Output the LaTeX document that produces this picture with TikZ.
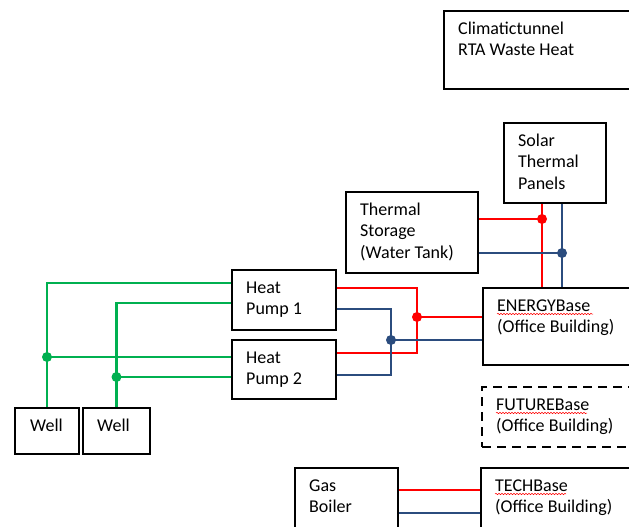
\documentclass[tikz,border=0pt]{standalone}
\usepackage{fontspec}
\setmainfont{Carlito}
\usetikzlibrary{calc}
\usetikzlibrary{decorations.pathmorphing}
\definecolor{hotred}{HTML}{FF0000}
\definecolor{coldblue}{HTML}{2B4C7E}
\definecolor{wellgreen}{HTML}{00B050}
\tikzset{
	unit/.style={draw, line width=2pt, rectangle, anchor=north west, inner sep=0pt},
	unit text/.style={anchor=north west, align=left, inner sep=0pt, font=\fontsize{18}{21.5}\selectfont},
	open unit/.style={dash pattern=on 9pt off 6pt},
	hot/.style={draw=hotred, line width=2.1pt},
	cold/.style={draw=coldblue, line width=2.1pt},
	brine/.style={draw=wellgreen, line width=2.1pt},
	typo/.style={draw=hotred, line width=0.5pt, decorate, decoration={snake, amplitude=0.7pt, segment length=3pt}}
}
\newcommand{\unitbox}[7][] % style, name, x, y, width, height, text
{
	% draw box
	\node[unit, minimum width=#5pt, minimum height=#6pt, #1] (#2) at (#3,#4) {};
	% text, top left of the box (strut = first baseline 24 below the top)
	\node[unit text] (#2-t) at ([shift={(15,11)}]#2.north west) {\rule{0pt}{13pt}#7};
}
\newcommand{\joint}[2] % colour, coordinate
{
	\fill[#1] (#2) circle (5);
}

\begin{document}
\begin{tikzpicture}[x=1pt, y=-1pt]
	% 629 x 527, one unit = one pixel
	\path[use as bounding box, clip] (0,0) rectangle (629,527);
	\fill[white] (0,0) rectangle (629,527);

	\unitbox{tunnel}{443}{10}{190}{78}{Climatictunnel\\RTA Waste Heat};
	\unitbox{solar}{503}{122}{102}{80}{Solar\\Thermal\\Panels};
	\unitbox{tank}{345}{191}{132}{81}{Thermal\\Storage\\(Water Tank)};
	\unitbox{energy}{482}{287}{160}{77}{ENERGYBase\\(Office Building)};
	\unitbox{hp1}{231}{269}{104}{60}{Heat\\Pump 1};
	\unitbox{hp2}{231}{339}{104}{59}{Heat\\Pump 2};
	\unitbox{well1}{14}{407}{64}{46}{\hspace{1pt}Well};
	\unitbox{well2}{82}{407}{67}{46}{Well};
	\unitbox[open unit]{future}{481}{386}{160}{60}{FUTUREBase\\(Office Building)};
	\unitbox{gas}{294}{467}{103}{80}{Gas\\Boiler};
	\unitbox{tech}{480}{467}{160}{80}{TECHBase\\(Office Building)};

	% spelling marks
	\draw[typo] ([shift={(0,16)}]energy-t.north west) -- ++(96,0);
	\draw[typo] ([shift={(0,16)}]future-t.north west) -- ++(91,0);
	\draw[typo] ([shift={(0,16)}]tech-t.north west) -- ++(71,0);

	% wells to heat pumps
	\draw[brine] ([shift={(0,14)}]hp1.north west) -| (well1.north);
	\draw[brine] ([shift={(0,34)}]hp1.north west) -| (well2.north);
	\coordinate (hp2-g1) at ([shift={(0,18)}]hp2.north west);
	\coordinate (hp2-g2) at ([shift={(0,38)}]hp2.north west);
	\draw[brine] (hp2-g1) -- (hp2-g1 -| well1.north) coordinate (gj1);
	\draw[brine] (hp2-g2) -- (hp2-g2 -| well2.north) coordinate (gj2);
	\joint{wellgreen}{gj1};
	\joint{wellgreen}{gj2};

	% heat pumps to ENERGYBase
	\coordinate (rj) at (417,317);
	\coordinate (bj) at (391,340);
	\draw[hot] ([shift={(0,19)}]hp1.north east) -| (rj) |- ([shift={(0,14)}]hp2.north east);
	\draw[cold] ([shift={(0,40)}]hp1.north east) -| (bj) |- ([shift={(0,36)}]hp2.north east);
	\draw[hot] (rj) -- (rj -| energy.west);
	\draw[cold] (bj) -- (bj -| energy.west);
	\joint{hotred}{rj};
	\joint{coldblue}{bj};

	% solar panels and storage to ENERGYBase
	\coordinate (sr) at ([xshift=39]solar.south west);
	\coordinate (sb) at ([xshift=59]solar.south west);
	\draw[hot] (sr) -- (sr |- energy.north);
	\draw[cold] (sb) -- (sb |- energy.north);
	\draw[hot] ([shift={(0,28)}]tank.north east) coordinate (tank-r) -- (tank-r -| sr) coordinate (tj1);
	\draw[cold] ([shift={(0,62)}]tank.north east) coordinate (tank-b) -- (tank-b -| sb) coordinate (tj2);
	\joint{hotred}{tj1};
	\joint{coldblue}{tj2};

	% gas boiler to TECHBase
	\draw[hot] ([shift={(0,23)}]gas.north east) coordinate (gas-r) -- (gas-r -| tech.west);
	\draw[cold] ([shift={(0,46)}]gas.north east) coordinate (gas-b) -- (gas-b -| tech.west);
\end{tikzpicture}
\end{document}
